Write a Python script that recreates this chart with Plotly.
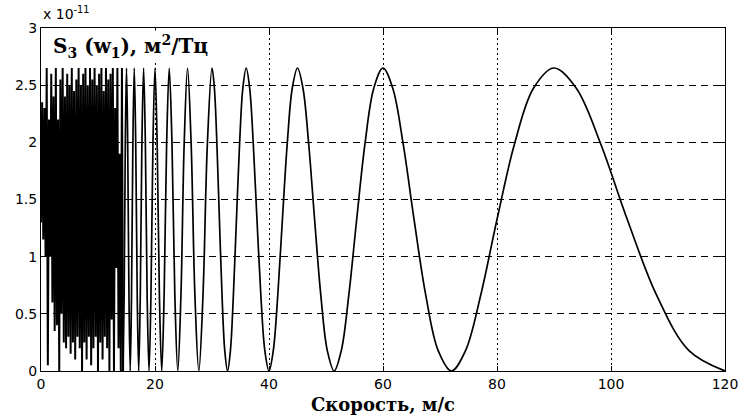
import plotly.graph_objects as go

# Spectral density S3(w1) in units of 1e-11 m^2/Hz versus speed (m/s)

# Dense (aliased) low-speed region
speed_dense = [0.0, 0.2, 0.4, 0.6, 0.8, 1.0, 1.2, 1.4, 1.6, 1.8, 2.0, 2.2, 2.4, 2.6, 2.8,
               3.0, 3.2, 3.4, 3.6, 3.8, 4.0, 4.2, 4.4, 4.6, 4.8, 5.0, 5.2, 5.4, 5.6, 5.8,
               6.0, 6.2, 6.4, 6.6, 6.8, 7.0, 7.2, 7.4, 7.6, 7.8, 8.0, 8.2, 8.4, 8.6, 8.8,
               9.0, 9.2, 9.4, 9.6, 9.8, 10.0, 10.2, 10.4, 10.6, 10.8, 11.0, 11.2, 11.4,
               11.6, 11.8, 12.0, 12.2, 12.4, 12.6, 12.8, 13.0, 13.2, 13.4, 13.6, 13.8,
               14.0, 14.2, 14.4]
s3_dense = [1.3, 2.35, 1.15, 2.3, 1.0, 2.65, 0.05, 2.2, 1.0, 2.6, 0.6, 2.4, 0.35, 2.65, 0.4,
            2.2, 0.0, 2.55, 0.5, 2.65, 0.25, 2.4, 0.2, 2.6, 0.3, 2.5, 0.15, 2.65, 0.25, 2.45,
            0.1, 2.55, 0.3, 2.65, 0.2, 2.5, 0.0, 2.6, 0.25, 2.65, 0.1, 2.5, 0.3, 2.65, 0.05,
            2.55, 0.2, 2.65, 0.3, 2.5, 0.0, 2.6, 0.25, 2.65, 0.1, 2.45, 0.3, 2.65,
            0.2, 2.55, 0.0, 2.6, 0.45, 2.65, 0.0, 2.3, 0.9, 2.65, 0.2, 1.9,
            0.0, 2.65, 0.0]

# Resolved oscillations
speed_main = [14.4, 14.59, 14.79, 15.0, 15.21, 15.43, 15.65, 15.88, 16.12, 16.36, 16.62, 16.88,
              17.14, 17.42, 17.70, 18.0, 18.31, 18.62, 18.95, 19.29, 19.64, 20.0, 20.38, 20.77,
              21.18, 21.6, 22.04, 22.5, 22.98, 23.48, 24.0, 24.55, 25.12, 25.71, 26.34, 27.0,
              27.69, 28.42, 29.19, 30.0, 30.42, 30.86, 31.30, 31.76, 32.24, 32.73, 33.23, 33.75,
              34.29, 34.84, 35.41, 36.0, 36.61, 37.24, 37.89, 38.57, 39.27, 40.0, 40.75, 41.54,
              42.35, 43.2, 44.08, 45.0, 45.96, 46.96, 48.0, 49.09, 50.23, 51.43, 52.68, 54.0,
              55.38, 56.84, 58.38, 60.0, 61.71, 63.53, 65.45, 67.5, 69.68, 72.0, 74.48, 77.14,
              80.0, 83.08, 86.4, 90.0, 93.91, 98.18, 102.86, 108.0, 113.68, 120.0]
s3_main = [0, 0.663, 1.988, 2.65, 1.988, 0.663, 0, 0.663, 1.988, 2.65, 1.988, 0.663,
           0, 0.663, 1.988, 2.65, 1.988, 0.663, 0, 0.663, 1.988, 2.65, 1.988, 0.663,
           0, 0.663, 1.988, 2.65, 1.988, 0.663, 0, 0.663, 1.988, 2.65, 1.988, 0.663,
           0, 0.663, 1.988, 2.65, 2.473, 1.988, 1.325, 0.663, 0.178, 0, 0.178, 0.663,
           1.325, 1.988, 2.473, 2.65, 2.473, 1.988, 1.325, 0.663, 0.178, 0, 0.178, 0.663,
           1.325, 1.988, 2.473, 2.65, 2.473, 1.988, 1.325, 0.663, 0.178, 0, 0.178, 0.663,
           1.325, 1.988, 2.473, 2.65, 2.473, 1.988, 1.325, 0.663, 0.178, 0, 0.178, 0.663,
           1.325, 1.988, 2.473, 2.65, 2.473, 1.988, 1.325, 0.663, 0.178, 0]

x_ticks = [0, 20, 40, 60, 80, 100, 120]
y_ticks = [0, 0.5, 1, 1.5, 2, 2.5, 3]
y_tick_labels = ["0", "0.5", "1", "1.5", "2", "2.5", "3"]

fig = go.Figure()
fig.add_trace(go.Scatter(x=speed_dense, y=s3_dense, mode="lines",
                         line=dict(color="black", width=2), showlegend=False))
fig.add_trace(go.Scatter(x=speed_main, y=s3_main, mode="lines",
                         line=dict(color="black", width=1.7, shape="spline"), showlegend=False))

axis_common = dict(showline=True, linecolor="black", linewidth=1, mirror="ticks",
                   ticks="inside", ticklen=5, tickcolor="black", zeroline=False,
                   showgrid=True, gridcolor="black", gridwidth=1,
                   tickfont=dict(family="DejaVu Sans", size=14, color="black"))

fig.update_xaxes(range=[0, 120], tickvals=x_ticks, griddash="2px,3px", **axis_common)
fig.update_yaxes(range=[0, 3], tickvals=y_ticks, ticktext=y_tick_labels,
                 griddash="7px,5px", **axis_common)

fig.add_annotation(text="<b>Скорость, м/с</b>", xref="paper", yref="paper",
                   x=0.5, y=-0.099, xanchor="center", yanchor="middle", showarrow=False,
                   font=dict(family="DejaVu Serif", size=18, color="black"))
fig.add_annotation(text="x 10<sup>-11</sup>", xref="paper", yref="paper",
                   x=0.0, y=1.045, xanchor="left", yanchor="middle", showarrow=False,
                   font=dict(family="DejaVu Sans", size=14, color="black"))
fig.add_annotation(text="<b>S<sub>3</sub> (w<sub>1</sub>), м<sup>2</sup>/Тц</b>",
                   xref="paper", yref="paper", x=0.014, y=0.945,
                   xanchor="left", yanchor="middle", showarrow=False,
                   bgcolor="white",
                   font=dict(family="DejaVu Serif", size=20, color="black"))

fig.update_layout(width=750, height=418, plot_bgcolor="white", paper_bgcolor="white",
                  margin=dict(l=41, r=21, t=28, b=47))

fig.write_html("out.html", config={"displayModeBar": False},
               post_script="document.body.style.margin='0';")
